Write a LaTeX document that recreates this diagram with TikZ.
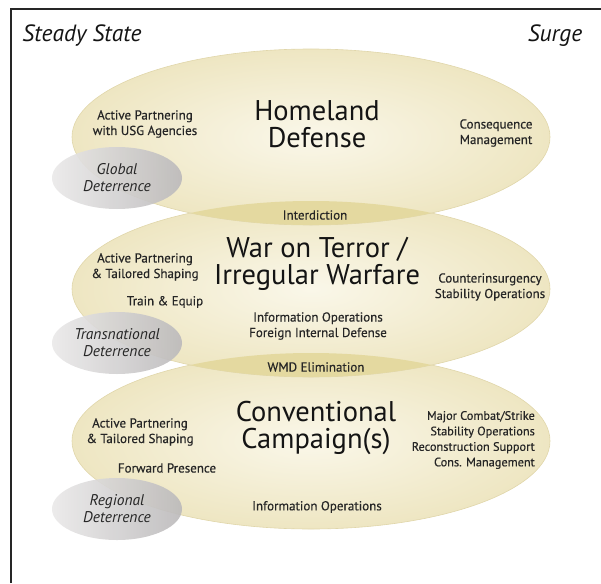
\documentclass[tikz,border=0pt]{standalone}
\usepackage{fontspec}
\setmainfont{PT Sans}
\newfontfamily\labelfont[FakeBold=0.45]{PT Sans}
\usetikzlibrary{shapes.geometric}
\definecolor{planbeige}{RGB}{238,230,194}
\definecolor{planlight}{RGB}{250,247,233}
\definecolor{planrim}{RGB}{224,214,170}
\definecolor{planlens}{RGB}{228,217,160}
\definecolor{detgrey}{RGB}{188,186,187}
\definecolor{detlight}{RGB}{234,233,233}
\colorlet{inkgrey}{black!85}

\tikzset{
  small/.style={font=\labelfont\fontsize{13}{15.5}\selectfont, text=inkgrey, align=center, inner sep=0pt},
  title/.style={font=\fontsize{28.5}{27.5}\selectfont, text=black!92, align=center, inner sep=0pt},
  corner/.style={font=\fontsize{23.5}{24}\selectfont\itshape, text=black!92, inner sep=0pt},
  deter/.style={font=\fontsize{15.5}{17}\selectfont\itshape, text=inkgrey, align=center, inner sep=0pt},
}

\begin{document}
\begin{tikzpicture}[x=1pt,y=-1pt]
    \newcommand\mission[1]{%
        \shadedraw[draw=planrim, line width=0.6pt, inner color=planlight, outer color=planbeige]
            (311,#1) ellipse [x radius=239pt, y radius=88pt];
    }
    \newcommand\overlap[2]{%
        \begin{scope}
            \clip (311,#1) ellipse [x radius=239pt, y radius=88pt];
            \fill[planlens] (311,#2) ellipse [x radius=239pt, y radius=88pt];
        \end{scope}
    }
    \newcommand\deterrence[3]{%
        \shade[left color=detlight, right color=detgrey, opacity=0.92]
            (117,#1) ellipse [x radius=65pt, y radius=31pt];
        \node[deter] (#2) at (117,#1) {#3};
    }

    \useasboundingbox (0,0) rectangle (601,583);

    % frame
    \draw[line width=2.6pt, black!85] (11,583) -- (11,9) -- (601,9);

    % mission sets, top to bottom
    \mission{441};
    \mission{289};
    \mission{137};
    \overlap{137}{289};
    \overlap{289}{441};

    % deterrence
    \deterrence{178}{global}{Global\\Deterrence};
    \deterrence{343}{transnational}{Transnational\\Deterrence};
    \deterrence{509}{regional}{Regional\\Deterrence};

    % labels
    \node[corner] (steady) at (82,36) {Steady State};
    \node[corner] (surge) at (555,36) {Surge};

    % homeland defense
    \node[title] (homeland) at (317,124) {Homeland\\Defense};
    \node[small] (partnerA) at (145,124) {Active Partnering\\with USG Agencies};
    \node[small] (consequence) at (496,133) {Consequence\\Management};
    \node[small] (interdiction) at (315,215) {Interdiction};

    % war on terror
    \node[title] (terror) at (317,264) {War on Terror /\\Irregular Warfare};
    \node[small] (partnerB) at (145,267) {Active Partnering\\\& Tailored Shaping};
    \node[small] (train) at (165,302) {Train \& Equip};
    \node[small] (infoB) at (318,326) {Information Operations\\Foreign Internal Defense};
    \node[small] (counter) at (490,287) {Counterinsurgency\\Stability Operations};
    \node[small] (wmd) at (316,367) {WMD Elimination};

    % conventional campaign
    \node[title] (conventional) at (316,428) {Conventional\\Campaign(s)};
    \node[small] (partnerC) at (140,432) {Active Partnering\\\& Tailored Shaping};
    \node[small] (forward) at (167,468) {Forward Presence};
    \node[small, font=\labelfont\fontsize{12.3}{15.5}\selectfont, align=right, anchor=east] (combat) at (535,440)
        {Major Combat/Strike\\Stability Operations\\Reconstruction Support\\Cons. Management};
    \node[small] (infoC) at (317,507) {Information Operations};
\end{tikzpicture}
\end{document}
